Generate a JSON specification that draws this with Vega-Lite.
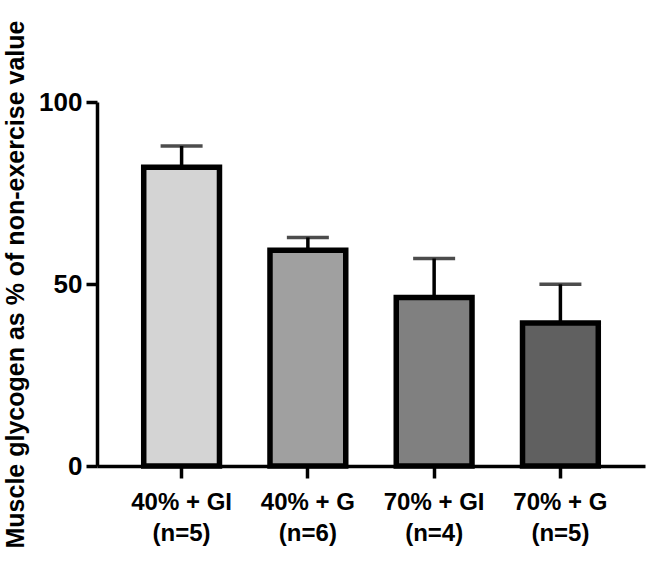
{
  "$schema": "https://vega.github.io/schema/vega-lite/v6.json",
  "width": 548,
  "height": 364,
  "autosize": {"type": "none"},
  "padding": {"left": 97, "top": 102, "right": 1, "bottom": 100},
  "background": "white",
  "config": {
    "view": {"stroke": null},
    "font": "Liberation Sans",
    "axis": {"grid": false, "domainColor": "black", "tickColor": "black", "labelColor": "black", "titleColor": "black", "labelFont": "Liberation Sans", "titleFont": "Liberation Sans", "labelFontWeight": "bold", "titleFontWeight": "bold", "domainWidth": 3.5, "tickWidth": 3.5},
    "axisY": {"labelFontSize": 26, "labelPadding": 4, "tickSize": 11, "titleFontSize": 25},
    "axisX": {"labelFontSize": 24, "labelPadding": 12, "tickSize": 12}
  },
  "data": {
    "values": [
      {"group": "40% + GI\n(n=5)", "mean": 82.1, "upper": 87.9},
      {"group": "40% + G\n(n=6)", "mean": 59.3, "upper": 62.8},
      {"group": "70% + GI\n(n=4)", "mean": 46.3, "upper": 57.0},
      {"group": "70% + G\n(n=5)", "mean": 39.3, "upper": 49.9}
    ]
  },
  "encoding": {
    "x": {
      "field": "group", "type": "nominal", "sort": null,
      "scale": {"paddingInner": 0.4, "paddingOuter": 0.37},
      "axis": {
        "title": null, "labelAngle": 0,
        "labelExpr": "split(datum.label, '\\n')", "labelLineHeight": 31
      }
    }
  },
  "layer": [
    {
      "mark": {"type": "bar", "stroke": "black", "strokeWidth": 5.5},
      "encoding": {
        "y": {
          "field": "mean", "type": "quantitative",
          "scale": {"domain": [0, 100], "nice": false},
          "axis": {
            "title": "Muscle glycogen as % of non-exercise value",
            "titleAngle": -90, "titleX": -74, "titleY": 182,
            "titleBaseline": "alphabetic", "titleAlign": "center",
            "values": [0, 50, 100]
          }
        },
        "fill": {
          "field": "group", "type": "nominal", "sort": null, "legend": null,
          "scale": {"range": ["#d4d4d4", "#a0a0a0", "#808080", "#606060"]}
        }
      }
    },
    {
      "mark": {"type": "rule", "strokeWidth": 3.5, "color": "black"},
      "encoding": {
        "y": {"field": "mean", "type": "quantitative"},
        "y2": {"field": "upper"}
      }
    },
    {
      "mark": {"type": "tick", "size": 42, "thickness": 3.5, "color": "black", "orient": "horizontal"},
      "encoding": {
        "y": {"field": "upper", "type": "quantitative"}
      }
    }
  ]
}
